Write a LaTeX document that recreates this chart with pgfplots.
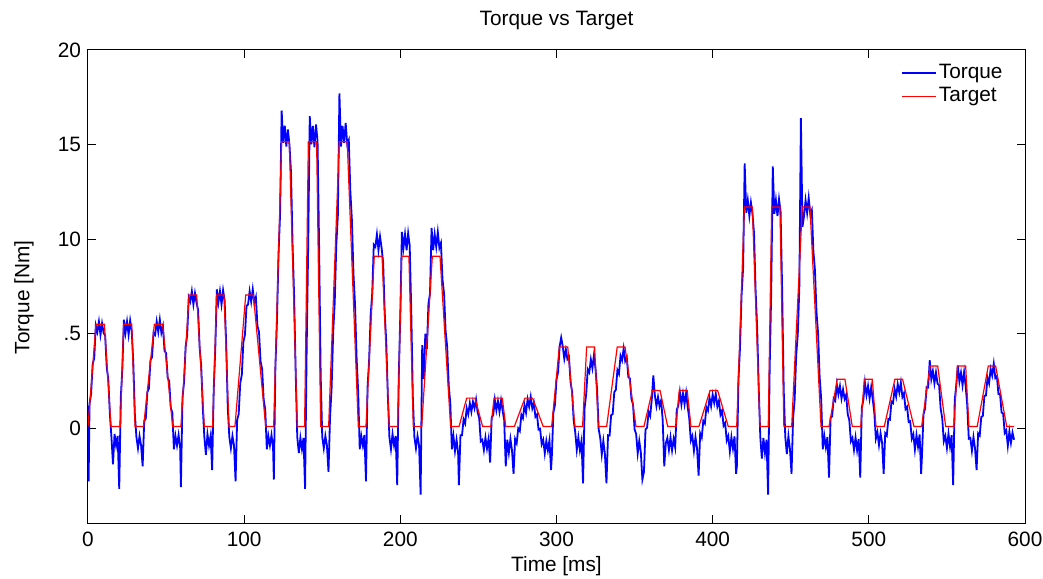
\documentclass[border=0pt]{standalone}
\usepackage{fontspec}
\setmainfont{Liberation Sans}
\usepackage{pgfplots}
\pgfplotsset{compat=1.18}
\begin{document}
\begin{tikzpicture}[font=\fontsize{10.4}{12}\selectfont]
\begin{axis}[
  at={(0,0)}, anchor=south west,
  scale only axis, width=468.5pt, height=236.5pt,
  xmin=0, xmax=600, ymin=-5, ymax=20,
  xtick={0,100,200,300,400,500,600},
  ytick={0,5,10,15,20},
  yticklabels={0,.5,10,15,20},
  /pgf/number format/assume math mode=true,
  tick align=inside, tick pos=both, major tick length=4pt,
  tick style={black, line width=0.5pt},
  axis line style={line width=0.5pt},
  xticklabel style={anchor=base, yshift=-11.5pt},
  xlabel={Time [ms]},
  xlabel style={at={(0.5,0)}, anchor=base, yshift=-24pt},
  ylabel={Torque [Nm]},
  ylabel style={at={(-0.0683,0.477)}, anchor=center},
  legend style={draw=none, fill=none, at={(0.985,0.985)}, anchor=north east,
    nodes={inner sep=1pt, text height=7.5pt, text depth=2.2pt}},
  legend cell align=left,
]
\addplot[blue, line width=0.9pt] coordinates {
(0,1.2) (0.4,-2.8) (1,1.32) (2,1.83) (3,3.4) (4,3.71) (5,5.43) (6,5.1) (7,5.65) (8,4.95) (9,5.55) (10,5.05) (11,4.9) (12,3.22) (13,2.6) (14,0.77) (15,-0.45) (16,-1.9) (17,-0.3) (18,-0.9) (19,-0.4) (20,-3.2) (21,1.63) (22,3.17) (23,5.75) (24,5.05) (25,5.65) (26,4.95) (27,5.7) (28,5.15) (29,3.51) (30,0.77) (31,-0.45) (32,-1.05) (33,-0.4) (34,-0.9) (35,-2.0) (36,0.4) (37,0.51) (38,1.91) (39,2.11) (40,3.61) (41,3.76) (42,5.06) (43,4.95) (44,5.65) (45,5.1) (46,5.75) (47,5.05) (48,5.39) (49,4.09) (50,3.99) (51,2.69) (52,2.49) (53,1.09) (54,0.84) (55,-1.1) (56,-0.4) (57,-0.9) (58,-0.35) (59,-1.0)
(59.5,-3.1) (60.5,1.62) (61.5,2.44) (62.5,4.31) (63.5,4.91) (64.5,6.93) (65.5,6.7) (66.5,7.25) (67.5,6.55) (68.5,7.15) (69.5,6.65) (70.5,6.26) (71.5,4.25) (72.5,3.29) (73.5,1.11) (74.5,-0.45) (75.5,-1.4) (76.5,-0.3) (77.5,-0.9) (78.5,-0.4) (79.5,-2.2) (80.5,2.02) (81.5,4.2) (82.5,7.35) (83.5,6.65) (84.5,7.25) (85.5,6.55) (86.5,7.3) (87.5,6.75) (88.5,4.47) (89.5,1.09) (90.5,-0.45) (91.5,-1.05) (92.5,-0.4) (93.5,-0.9) (94.5,-2.8) (95.5,0.44) (96.5,0.76) (97.5,2.4) (98.5,2.83) (99.5,4.57) (100.5,4.94) (101.5,6.47) (102.5,6.55) (103.5,7.25) (104.5,6.7) (105.5,7.35) (106.5,6.65) (107.5,6.94) (108.5,5.42) (109.5,5.1) (110.5,3.55) (111.5,3.13) (112.5,1.51) (113.5,1.01) (114.5,-1.1) (115.5,-0.4) (116.5,-0.9) (117.5,-0.35) (118.5,-1.0)
(119,-2.7) (120,3.25) (121,5.69) (122,9.19) (123,11.33) (124,16.8) (125,15.1) (126,16.0) (127,14.9) (128,15.8) (129,15.0) (130,13.53) (131,9.72) (132,6.97) (133,2.91) (134,-0.45) (135,-1.3) (136,-0.5) (137,-1.1) (138,-0.5) (139,-3.2) (140,4.07) (141,9.67) (142,16.5) (143,15.02) (144,15.98) (145,14.86) (146,16.06) (147,15.18) (148,9.6) (149,2.8) (150,-0.45) (151,-1.05) (152,-0.4) (153,-0.9) (154,-2.3) (155,0.61) (156,2.13) (157,5.06) (158,6.68) (159,9.7) (160,11.27) (161,17.7) (162,14.9) (163,15.98) (164,15.1) (165,16.14) (166,15.02) (167,15.24) (168,12.52) (169,11.0) (170,8.17) (171,6.55) (172,3.73) (173,1.96) (174,-1.1) (175,-0.4) (176,-0.9) (177,-0.35)
(178,-2.8) (179,2.18) (180,3.56) (181,5.99) (182,7.13) (183,9.71) (184,9.6) (185,10.26) (186,9.42) (187,10.14) (188,9.54) (189,8.77) (190,6.14) (191,4.56) (192,1.73) (193,-0.45) (194,-1.1) (195,-0.3) (196,-0.9) (197,-0.4) (198,-3.0) (199,2.73) (200,6.09) (201,10.38) (202,9.54) (203,10.26) (204,9.42) (205,10.32) (206,9.66) (207,6.24) (208,1.68) (209,-0.45) (210,-1.05) (211,-0.4) (212,-0.9) (213,-3.5) (214,4.4) (215,2.6) (216,5.0) (217,4.2) (218,6.6) (219,7.13) (220,10.6) (221,9.42) (222,10.26) (223,9.6) (224,10.38) (225,9.54) (226,9.8) (227,7.87) (228,7.13) (229,5.15) (230,4.31) (231,2.27) (232,1.34) (233,-1.1) (234,-0.4) (235,-1.2) (236,-0.6) (237,-1.3)
(237.5,-3.0) (238.5,-0.36) (239.5,-0.36) (240.5,0.48) (241.5,0.26) (242.5,1.07) (243.5,0.75) (244.5,1.34) (245.5,0.88) (246.5,1.41) (247.5,1.06) (248.5,1.53) (249.5,0.84) (250.5,0.54) (251.5,-0.68) (252.5,-0.6) (253.5,-1.14) (254.5,-0.48) (255.5,-1.06) (256.5,-0.56) (257.5,-1.8) (258.5,0.58) (259.5,0.7) (260.5,1.52) (261.5,0.96) (262.5,1.44) (263.5,0.88) (264.5,1.48) (265.5,0.94) (266.5,0.44) (267.5,-2.0) (268.5,-0.6) (269.5,-1.28) (270.5,-0.56) (271.5,-1.16) (272.5,-2.4) (273.5,-0.56) (274.5,-0.78) (275.5,0.0) (276.5,-0.14) (277.5,0.72) (278.5,0.54) (279.5,1.23) (280.5,0.83) (281.5,1.54) (282.5,1.15) (283.5,1.67) (284.5,1.06) (285.5,1.36) (286.5,0.62) (287.5,0.74) (288.5,-0.06) (289.5,-0.02) (290.5,-0.84) (291.5,-0.6) (292.5,-1.32) (293.5,-0.66) (294.5,-1.16) (295.5,-0.62) (296.5,-2.2)
(297,-1.5) (298,0.84) (299,1.24) (300,2.58) (301,2.96) (302,4.32) (303,4.8) (304,4.34) (305,3.68) (306,4.16) (307,3.66) (308,3.78) (309,2.44) (310,1.94) (311,0.42) (312,-0.2) (313,-1.14) (314,-0.48) (315,-1.16) (316,-0.66) (317,-2.9) (318,1.08) (319,1.8) (320,3.12) (321,2.96) (322,3.64) (323,3.18) (324,3.88) (325,3.14) (326,2.04) (327,-0.04) (328,-0.5) (329,-1.38) (330,-0.66) (331,-1.36) (332,-2.9) (333,-0.36) (334,-0.38) (335,0.7) (336,0.76) (337,1.92) (338,2.04) (339,3.08) (340,2.88) (341,3.84) (342,3.6) (343,4.22) (344,3.56) (345,3.76) (346,2.72) (347,2.64) (348,1.54) (349,1.28) (350,-0.04) (351,-0.3) (352,-1.32) (353,-0.66) (354,-1.26) (355,-2.7)
(356,-2.3) (357,-0.06) (358,0.04) (359,0.88) (360,0.66) (361,1.52) (362,2.8) (363,1.74) (364,1.18) (365,1.66) (366,1.16) (367,1.48) (368,0.44) (369,-2.0) (370,-0.78) (371,-0.5) (372,-1.14) (373,-0.48) (374,-1.16) (375,-0.56) (376,-1.0) (377,0.98) (378,1.2) (379,1.92) (380,1.26) (381,1.84) (382,1.28) (383,1.88) (384,1.14) (385,0.54) (386,-0.64) (387,-0.4) (388,-1.18) (389,-0.46) (390,-1.06) (391,-2.5) (392,-0.26) (393,-0.48) (394,0.4) (395,0.26) (396,1.12) (397,0.94) (398,1.63) (399,1.18) (400,1.79) (401,1.35) (402,1.82) (403,1.16) (404,1.46) (405,0.72) (406,0.94) (407,0.14) (408,0.28) (409,-0.64) (410,-0.4) (411,-1.22) (412,-0.46) (413,-1.06) (414,-0.42) (415,-2.4)
(415.5,-2.0) (416.5,2.52) (417.5,4.25) (418.5,7.02) (419.5,8.48) (420.5,14.0) (421.5,11.4) (422.5,12.06) (423.5,11.22) (424.5,11.94) (425.5,11.34) (426.5,10.3) (427.5,7.29) (428.5,5.33) (429.5,2.11) (430.5,-0.45) (431.5,-1.6) (432.5,-0.5) (433.5,-1.3) (434.5,-0.6) (435.5,-3.5) (436.5,3.16) (437.5,7.24) (438.5,13.85) (439.5,11.34) (440.5,12.06) (441.5,11.22) (442.5,12.12) (443.5,11.46) (444.5,7.32) (445.5,2.04) (446.5,-0.45) (447.5,-1.35) (448.5,-0.4) (449.5,-1.1) (450.5,-2.4) (451.5,0.53) (452.5,1.52) (453.5,3.88) (454.5,4.97) (455.5,7.42) (456.5,16.4) (457.5,10.65) (458.5,11.22) (459.5,12.06) (460.5,11.4) (461.5,12.18) (462.5,11.34) (463.5,11.55) (464.5,9.36) (465.5,8.37) (466.5,6.12) (467.5,5.03) (468.5,2.74) (469.5,1.54) (470.5,-1.1) (471.5,-0.4) (472.5,-1.0) (473.5,-0.45)
(474.5,-2.6) (475.5,0.54) (476.5,0.64) (477.5,1.58) (478.5,1.46) (479.5,2.32) (480.5,1.8) (481.5,2.24) (482.5,1.58) (483.5,2.06) (484.5,1.56) (485.5,1.78) (486.5,0.74) (487.5,0.44) (488.5,-0.68) (489.5,-0.5) (490.5,-1.14) (491.5,-0.48) (492.5,-1.16) (493.5,-0.56) (494.5,-2.6) (495.5,1.08) (496.5,1.5) (497.5,2.42) (498.5,1.76) (499.5,2.24) (500.5,1.58) (501.5,2.18) (502.5,1.54) (503.5,0.84) (504.5,-0.54) (505.5,-0.2) (506.5,-0.88) (507.5,-0.26) (508.5,-0.76) (509.5,-2.4) (510.5,-0.26) (511.5,-0.38) (512.5,0.5) (513.5,0.46) (514.5,1.42) (515.5,1.34) (516.5,2.08) (517.5,1.68) (518.5,2.34) (519.5,1.9) (520.5,2.42) (521.5,1.66) (522.5,1.86) (523.5,1.02) (524.5,1.14) (525.5,0.34) (526.5,0.38) (527.5,-0.54) (528.5,-0.3) (529.5,-1.12) (530.5,-0.36) (531.5,-0.96) (532.5,-0.32) (533.5,-2.4)
(534,-1.5) (535,0.74) (536,1.04) (537,2.18) (538,2.16) (539,3.6) (540,2.6) (541,3.04) (542,2.38) (543,2.96) (544,2.36) (545,2.28) (546,1.04) (547,0.54) (548,-0.68) (549,-0.4) (550,-1.04) (551,-0.28) (552,-0.96) (553,-0.36) (554,-3.0) (555,1.48) (556,2.3) (557,3.32) (558,2.46) (559,2.94) (560,2.28) (561,2.98) (562,2.24) (563,1.24) (564,-0.54) (565,-0.5) (566,-1.18) (567,-0.46) (568,-1.06) (569,-2.2) (570,-0.26) (571,-0.38) (572,0.6) (573,0.66) (574,1.72) (575,1.74) (576,2.68) (577,2.38) (578,3.14) (579,2.8) (580,3.42) (581,2.66) (582,2.76) (583,1.82) (584,1.84) (585,0.84) (586,0.78) (587,-0.24) (588,-0.1) (589,-0.92) (590,-0.16) (591,-0.76) (592,-0.22) (593,-0.6)
};
\addlegendentry{Torque}
\addplot[red, line width=0.6pt] coordinates {
(0,0.1) (5.1,5.5) (10.5,5.5) (14.7,0.1) (20.7,0.1) (22.8,5.5) (28,5.5) (30.1,0.1) (35.6,0.1) (42.5,5.5) (47.8,5.5) (54.2,0.1) (59.5,0.1)
(64.7,7.05) (69.6,7.05) (74.5,0.1) (79.8,0.1) (82.4,7.05) (87.1,7.05) (90.3,0.1) (94.1,0.1) (101,7.05) (105.9,7.05) (113.8,0.1) (118.9,0.1)
(124,15.15) (128.9,15.15) (134,0.1) (138.7,0.1) (141.1,15.15) (146.4,15.15) (149,0.1) (154.1,0.1) (160.9,15.15) (166,15.15) (173.1,0.1) (178,0.1)
(183.3,9.1) (188.3,9.1) (192.9,0.1) (198.3,0.1) (200.9,9.1) (205.5,9.1) (208.3,0.1) (213.7,0.1) (220.5,9.1) (225.4,9.1) (232.2,0.1) (237.6,0.1)
(242.5,1.6) (247.8,1.6) (252.7,0.1) (258,0.1) (260,1.6) (265.3,1.6) (267.5,0.1) (273,0.1) (279.8,1.6) (284.7,1.6) (291.5,0.1) (296.9,0.1)
(301.8,4.3) (307.2,4.3) (311.8,0.1) (316.7,0.1) (319.3,4.3) (324.4,4.3) (326.8,0.1) (332.1,0.1) (338.9,4.3) (343.9,4.3) (350.9,0.1) (356,0.1)
(361.4,2.0) (366.3,2.0) (371.2,0.1) (376.5,0.1) (378.6,2.0) (383.7,2.0) (386.1,0.1) (391.2,0.1) (398.3,2.0) (403.2,2.0) (410,0.1) (415.4,0.1)
(420.3,11.7) (425.4,11.7) (430.3,0.1) (435.6,0.1) (437.8,11.7) (443.1,11.7) (445.6,0.1) (450.6,0.1) (457.4,11.7) (462.3,11.7) (469.4,0.1) (474.5,0.1)
(479.8,2.6) (484.7,2.6) (489.4,0.1) (494.8,0.1) (497.1,2.6) (502.2,2.6) (504.6,0.1) (509.9,0.1) (516.7,2.6) (521.6,2.6) (528.9,0.1) (533.8,0.1)
(539.2,3.3) (544.1,3.3) (549.2,0.1) (554.5,0.1) (556.7,3.3) (562,3.3) (564.1,0.1) (569.4,0.1) (576.5,3.3) (581.2,3.3) (588.3,0.1) (593.1,0.1)
};
\addlegendentry{Target}
\end{axis}
\node[anchor=base] at (234.25pt,248.5pt) {Torque vs Target};
\pgfresetboundingbox
\useasboundingbox (-44pt,-27.5pt) rectangle (477.5pt,261.5pt);
\end{tikzpicture}
\end{document}
